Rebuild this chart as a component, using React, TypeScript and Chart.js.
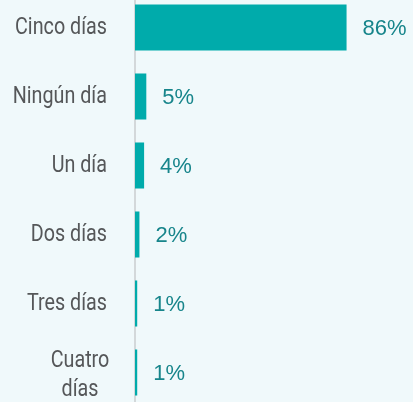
import React, { useEffect, useRef } from "react";
import { Chart, registerables } from "chart.js";
Chart.register(...registerables);

const categories: (string | string[])[] = [
  "Cinco días",
  "Ningún día",
  "Un día",
  "Dos días",
  "Tres días",
  ["Cuatro", "días"],
];
const values = [86, 4.6, 3.7, 1.8, 0.9, 0.9];
const valueLabels = ["86%", "5%", "4%", "2%", "1%", "1%"];

const BG = "#f0f9fb";
const BAR = "#00abab";
const VALUE_COLOR = "#17858b";
const CAT_COLOR = "#555759";
const CAT_FONT = '23px Roboto, "Noto Sans", sans-serif';
const VAL_FONT = '22px "Liberation Sans", Arial, sans-serif';

const labelPlugin = {
  id: "customLabels",
  afterDatasetsDraw(chart: any) {
    const ctx = chart.ctx as CanvasRenderingContext2D;
    const meta = chart.getDatasetMeta(0);
    const yScale = chart.scales.y;
    ctx.save();
    // value labels
    ctx.font = VAL_FONT;
    ctx.fillStyle = VALUE_COLOR;
    ctx.textAlign = "left";
    ctx.textBaseline = "middle";
    meta.data.forEach((bar: any, i: number) => {
      ctx.fillText(valueLabels[i], bar.x + 16, bar.y + 1);
    });
    // category labels (condensed look via horizontal scaling)
    ctx.font = CAT_FONT;
    ctx.fillStyle = CAT_COLOR;
    ctx.textBaseline = "middle";
    const ref = ctx.measureText("Cinco días").width;
    const sx = ref > 0 ? 92 / ref : 1;
    categories.forEach((c, i) => {
      const y = yScale.getPixelForValue(i);
      ctx.save();
      ctx.scale(sx, 1);
      if (Array.isArray(c)) {
        ctx.textAlign = "center";
        const lh = 29;
        const start = y + 3 - ((c.length - 1) * lh) / 2;
        c.forEach((line, j) => ctx.fillText(line, 80 / sx, start + j * lh));
      } else {
        ctx.textAlign = "right";
        ctx.fillText(c, 107 / sx, y + 1);
      }
      ctx.restore();
    });
    ctx.restore();
  },
};

export default function App() {
  const ref = useRef<HTMLCanvasElement | null>(null);
  useEffect(() => {
    if (!ref.current) return;
    const chart = new Chart(ref.current, {
      type: "bar",
      data: {
        labels: categories as any,
        datasets: [
          {
            data: values,
            backgroundColor: BAR,
            borderWidth: 0,
            categoryPercentage: 1,
            barPercentage: 0.667,
          },
        ],
      },
      options: {
        indexAxis: "y",
        responsive: false,
        animation: false,
        devicePixelRatio: 1,
        layout: { padding: { left: 0, right: 32, top: 0, bottom: 0 } },
        plugins: {
          legend: { display: false },
          tooltip: { enabled: false },
        },
        scales: {
          x: {
            display: false,
            min: 0,
            max: 100,
          },
          y: {
            display: true,
            ticks: { display: false },
            grid: { display: false, drawTicks: false },
            border: { display: true, color: "#d3d8da", width: 2 },
            afterFit: (scale: any) => {
              scale.width = 135;
            },
          },
        },
      },
      plugins: [labelPlugin],
    });
    return () => chart.destroy();
  }, []);
  return (
    <div
      style={{
        position: "fixed",
        left: 0,
        top: 0,
        width: 413,
        height: 402,
        overflow: "hidden",
        background: BG,
      }}
    >
      <canvas
        ref={ref}
        width={413}
        height={414}
        style={{ position: "absolute", left: 0, top: -7, width: 413, height: 414 }}
      />
    </div>
  );
}
